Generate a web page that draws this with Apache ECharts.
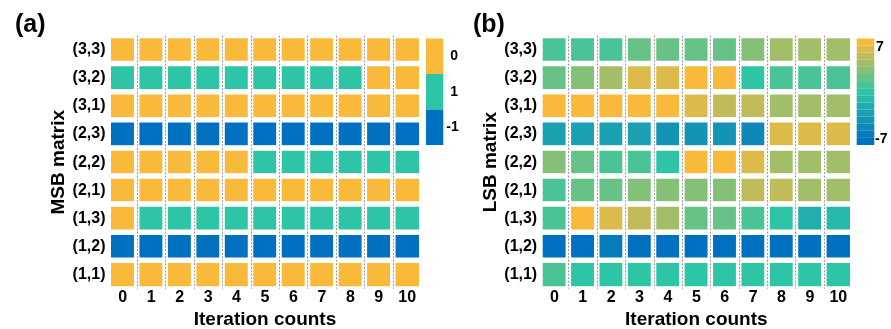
<!DOCTYPE html>
<html>
<head>
<meta charset="utf-8">
<script src="https://cdn.jsdelivr.net/npm/echarts@6/dist/echarts.min.js"></script>
<style>
html,body{margin:0;padding:0;background:#fff;}
#chart{width:891px;height:329px;}
</style>
</head>
<body>
<div id="chart"></div>
<script>
// ---- data ----
const iterations = ['0','1','2','3','4','5','6','7','8','9','10'];
// matrix cells, bottom to top (category y axis order)
const matrixCells = ['(1,1)','(1,2)','(1,3)','(2,1)','(2,2)','(2,3)','(3,1)','(3,2)','(3,3)'];
// rows listed top to bottom: (3,3),(3,2),(3,1),(2,3),(2,2),(2,1),(1,3),(1,2),(1,1)
const msbValues = [
  [0,0,0,0,0,0,0,0,0,0,0],
  [1,1,1,1,1,1,1,1,1,0,0],
  [0,0,0,0,0,0,0,0,0,0,0],
  [-1,-1,-1,-1,-1,-1,-1,-1,-1,-1,-1],
  [0,0,0,0,0,1,1,1,1,1,1],
  [0,0,0,0,0,0,0,0,0,0,0],
  [0,1,1,1,1,1,1,1,1,1,1],
  [-1,-1,-1,-1,-1,-1,-1,-1,-1,-1,-1],
  [0,0,0,0,0,0,0,0,0,0,0]
];
const lsbValues = [
  [1,1,1,2,2,2,2,3,4,4,4],
  [2,3,4,6,6,7,7,0,1,1,1],
  [7,7,7,7,7,6,5,5,4,4,4],
  [-3,-3,-3,-3,-4,-4,-4,-5,6,6,6],
  [3,2,1,1,0,7,7,6,4,4,4],
  [1,2,2,3,3,3,3,5,5,4,4],
  [1,7,6,5,4,2,2,1,0,-2,-1],
  [-7,-7,-6,-7,-7,-7,-7,-7,-7,-7,-7],
  [1,0,0,0,0,0,0,0,0,0,0]
];
const msbLevels = ['0', '1', '-1'];          // legend order, top to bottom
const lsbLevels = [7,6,5,4,3,2,1,0,-1,-2,-3,-4,-5,-6,-7];
const lsbEndLabels = ['7', '-7'];

// ---- styles ----
const FONT = 'Arial, "Liberation Sans", sans-serif';
const cBlue = [0,112,192], cTeal = [45,197,165], cYellow = [249,185,59];
function rgb(a){ return 'rgb(' + a.map(Math.round).join(',') + ')'; }
function mix(a,b,t){ return [0,1,2].map(i => a[i] + (b[i]-a[i])*t); }
function lsbColor(v){ const t = Math.abs(v)/7; return rgb(mix(cTeal, v >= 0 ? cYellow : cBlue, t)); }
const msbColors = {'0': rgb(cYellow), '1': rgb(cTeal), '-1': rgb(cBlue)};

function toHeat(rows){
  const out = [];
  rows.forEach((row, i) => {
    const yi = rows.length - 1 - i;
    row.forEach((v, xi) => out.push([xi, yi, v]));
  });
  return out;
}

const labelStyle = {fontFamily: FONT, fontWeight: 'bold', fontSize: 16, color: '#000'};
const nameStyle = {fontFamily: FONT, fontWeight: 'bold', fontSize: 19, color: '#000'};
const legendFont = 'bold 14px ' + FONT;

function xAxisFor(gi){
  return {
    type: 'category', gridIndex: gi, data: iterations, z: 10,
    axisLine: {show: false}, axisTick: {show: false},
    axisLabel: Object.assign({margin: 1}, labelStyle),
    splitLine: {show: true, showMinLine: false, showMaxLine: false,
      lineStyle: {color: '#9a9a9a', type: [2, 1.5], width: 1}},
    name: 'Iteration counts', nameLocation: 'middle', nameGap: 9,
    nameTextStyle: nameStyle
  };
}
function yAxisFor(gi, name, gap){
  return {
    type: 'category', gridIndex: gi, data: matrixCells,
    axisLine: {show: false}, axisTick: {show: false},
    axisLabel: Object.assign({margin: 3}, labelStyle),
    splitLine: {show: false},
    name: name, nameLocation: 'middle', nameGap: gap, nameRotate: 90,
    nameTextStyle: nameStyle
  };
}

const chart = echarts.init(document.getElementById('chart'), null, {renderer: 'canvas'});
chart.setOption({
  animation: false,
  backgroundColor: '#fff',
  title: [
    {text: '(a)', left: 10, top: 8, textStyle: {fontFamily: FONT, fontWeight: 'bold', fontSize: 25, color: '#000'}},
    {text: '(b)', left: 468, top: 8, textStyle: {fontFamily: FONT, fontWeight: 'bold', fontSize: 25, color: '#000'}}
  ],
  grid: [
    {left: 108.5, top: 35.7, width: 313, height: 253, outerBoundsMode: 'none'},
    {left: 540.2, top: 35.7, width: 312.3, height: 253, outerBoundsMode: 'none'}
  ],
  xAxis: [xAxisFor(0), xAxisFor(1)],
  yAxis: [yAxisFor(0, 'MSB matrix', 40), yAxisFor(1, 'LSB matrix', 36)],
  visualMap: [
    {
      type: 'piecewise', seriesIndex: 0, orient: 'vertical',
      left: 426, top: 38.5, padding: 0,
      itemWidth: 17.3, itemHeight: 35.5, itemGap: 0, itemSymbol: 'rect',
      textGap: 3, selectedMode: false, hoverLink: false,
      textStyle: {fontFamily: FONT, fontWeight: 'bold', fontSize: 14, color: '#000'},
      categories: msbLevels,
      formatter: v => (String(v).charAt(0) === '-' ? '' : ' ') + v,
      inRange: {color: msbLevels.map(v => msbColors[v])}
    },
    {
      type: 'piecewise', seriesIndex: 1, orient: 'vertical',
      left: 856.7, top: 38.5, padding: 0,
      itemWidth: 17.6, itemHeight: 106.5 / lsbLevels.length, itemGap: 0, itemSymbol: 'rect',
      showLabel: false, selectedMode: false, hoverLink: false,
      pieces: lsbLevels.map(v => ({value: v, color: lsbColor(v)}))
    }
  ],
  graphic: [
    {type: 'text', left: 876, top: 40, style: {text: lsbEndLabels[0], font: legendFont, fill: '#000'}},
    {type: 'text', left: 875, top: 132, style: {text: lsbEndLabels[1], font: legendFont, fill: '#000'}}
  ],
  series: [
    {type: 'heatmap', xAxisIndex: 0, yAxisIndex: 0, data: toHeat(msbValues),
     itemStyle: {borderColor: '#fff', borderWidth: 5.5}, emphasis: {disabled: true}, label: {show: false}},
    {type: 'heatmap', xAxisIndex: 1, yAxisIndex: 1, data: toHeat(lsbValues),
     itemStyle: {borderColor: '#fff', borderWidth: 5.5}, emphasis: {disabled: true}, label: {show: false}}
  ]
});
</script>
</body>
</html>
